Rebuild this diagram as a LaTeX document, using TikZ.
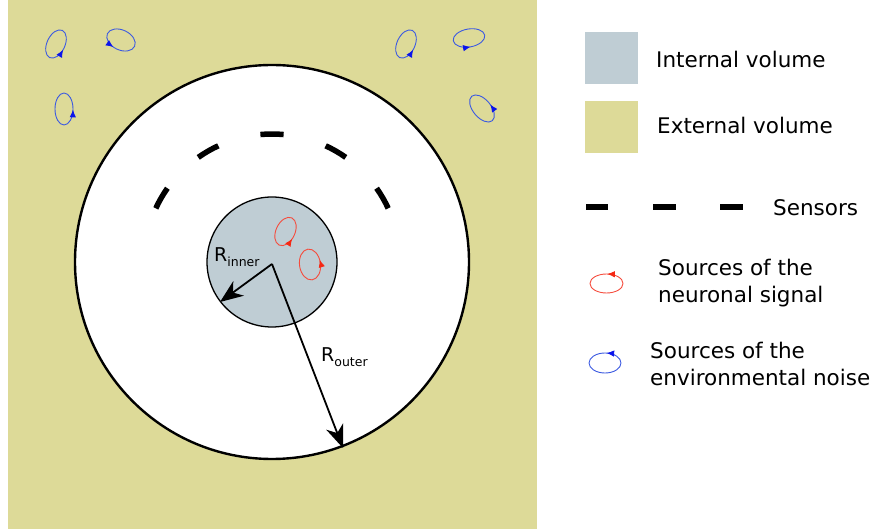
\documentclass[tikz,border=0pt]{standalone}
\usepackage{fontspec}
\setmainfont{DejaVu Sans}
\usetikzlibrary{arrows.meta,decorations.markings}

\definecolor{extvol}{RGB}{221,218,152}
\definecolor{intvol}{RGB}{191,205,212}
\definecolor{noiseline}{RGB}{60,90,225}
\definecolor{noisetip}{RGB}{10,20,235}
\definecolor{signalline}{RGB}{245,75,60}
\definecolor{signaltip}{RGB}{245,40,20}

\tikzset{
  sensor/.style={line width=5.5pt, line cap=butt},
  radiusarrow/.style={line width=1.8pt, -{Stealth[length=23pt,width=18pt,inset=7pt]}},
  legtext/.style={anchor=base west, inner sep=0pt},
  sublabel/.style={anchor=base west, inner sep=0pt, font=\fontsize{19}{19}\selectfont},
}

% current loop: line colour, tip colour, centre, x radius, y radius, rotation, tip position
\newcommand{\srcloop}[7]{%
  \draw[#1, line width=0.9pt, rotate around={#6:#3},
    postaction={decorate, decoration={markings,
      mark=at position #7 with {\arrowreversed{Latex[length=7.5pt,width=6.5pt,color=#2]}}}}]
    #3 ellipse [x radius=#4, y radius=#5];
}

\begin{document}
\begin{tikzpicture}[x=1pt, y=-1pt, font=\fontsize{21.5}{27}\selectfont]
\useasboundingbox (0,0) rectangle (876,529);

% external volume
\fill[extvol] (7.5,0) rectangle (537,529);

% shells
\coordinate (ctr) at (272,262);
\draw[line width=2.4pt, fill=white] (ctr) circle[radius=197];
\draw[line width=1.3pt, fill=intvol] (ctr) circle[radius=65];

% sensor array
\foreach \a [evaluate=\a as \s using -\a-5.2, evaluate=\a as \e using -\a+5.2] in {30,60,90,120,150}
  \draw[sensor] ([shift={(\s:128)}]ctr) arc[start angle=\s, end angle=\e, radius=128];

% radii
\coordinate (orig) at (272,264);
\coordinate (tipin) at (220,302);
\coordinate (tipout) at (343,448);
\draw[radiusarrow] (orig) -- (tipin);
\draw[radiusarrow] (orig) -- (tipout);
\node[sublabel] (rin) at (214,262) {R\raisebox{-5pt}{\fontsize{12.5}{12.5}\selectfont inner}};
\node[sublabel] (rout) at (321,362) {R\raisebox{-5pt}{\fontsize{12.5}{12.5}\selectfont outer}};

% neuronal sources
\srcloop{signalline}{signaltip}{(285.5,231.5)}{9.5}{15}{-25}{0.05}
\srcloop{signalline}{signaltip}{(310,264.5)}{10.5}{15.5}{8}{0.96}

% environmental sources
\srcloop{noiseline}{noisetip}{(56,44)}{9}{15}{-25}{0.03}
\srcloop{noiseline}{noisetip}{(121,40)}{15}{10}{-25}{0.30}
\srcloop{noiseline}{noisetip}{(64,109)}{9}{16}{0}{0.01}
\srcloop{noiseline}{noisetip}{(406,44)}{9}{15}{-25}{0.03}
\srcloop{noiseline}{noisetip}{(469,38)}{16}{9}{10}{0.25}
\srcloop{noiseline}{noisetip}{(482,108.5)}{9}{16}{40}{0.03}

% legend
\fill[intvol] (585,32) rectangle (638,84);
\node[legtext] (lint) at (656,68) {Internal volume};
\fill[extvol] (585,101) rectangle (638,153);
\node[legtext] (lext) at (657,134) {External volume};

\draw[sensor, line width=6.5pt] (586,207) -- (608,207);
\draw[sensor, line width=6.5pt] (653,207) -- (676,207);
\draw[sensor, line width=6.5pt] (720,207) -- (743,207);
\node[legtext] (lsen) at (773,216) {Sensors};

\srcloop{signalline}{signaltip}{(606.5,283.5)}{16.5}{9.5}{0}{0.76}
\node[legtext] (lsig1) at (658,276) {Sources of the};
\node[legtext] (lsig2) at (658,303) {neuronal signal};

\srcloop{noiseline}{noisetip}{(605,363)}{16}{10}{0}{0.77}
\node[legtext] (lnoi1) at (650,359) {Sources of the};
\node[legtext] (lnoi2) at (650,386) {environmental noise};
\end{tikzpicture}
\end{document}
